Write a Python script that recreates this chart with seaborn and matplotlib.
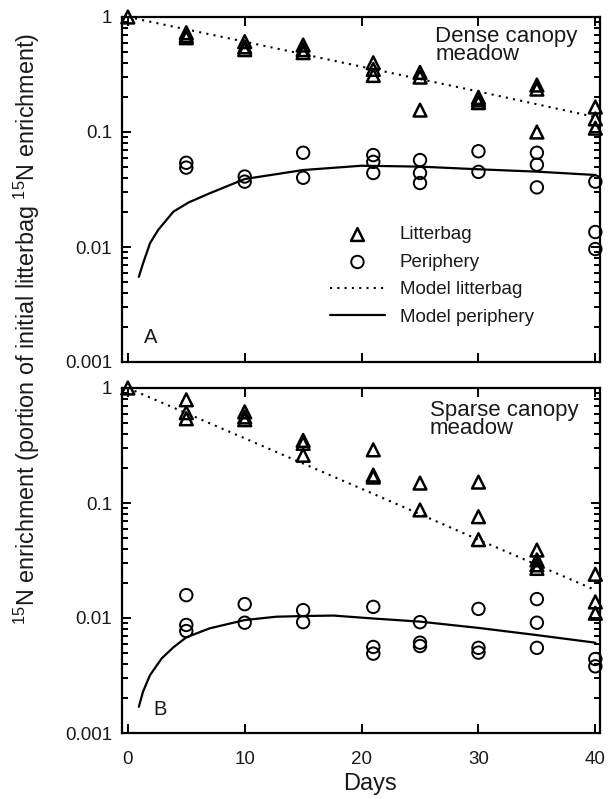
import numpy as np
import pandas as pd
import matplotlib
matplotlib.use("Agg")
import matplotlib.pyplot as plt
import matplotlib.ticker as mticker
import seaborn as sns

# --- data ---
# Dense canopy meadow (panel A)
dense_litter_days = [0, 5, 5, 5, 10, 10, 10, 15, 15, 15, 21, 21, 21, 25, 25, 25,
                     30, 30, 30, 35, 35, 35, 40, 40, 40]
dense_litter_vals = [1.0, 0.73, 0.69, 0.66, 0.61, 0.55, 0.52, 0.57, 0.52, 0.49,
                     0.40, 0.35, 0.31, 0.33, 0.30, 0.155, 0.20, 0.19, 0.18,
                     0.256, 0.236, 0.10, 0.165, 0.13, 0.108]
dense_peri_days = [5, 5, 10, 10, 15, 15, 21, 21, 21, 25, 25, 25, 30, 30,
                   35, 35, 35, 40, 40, 40]
dense_peri_vals = [0.054, 0.049, 0.041, 0.037, 0.066, 0.040, 0.063, 0.055, 0.044,
                   0.057, 0.044, 0.036, 0.068, 0.045, 0.066, 0.052, 0.033,
                   0.037, 0.0135, 0.0096]
dense_model_litter_days = [0, 10, 20, 30, 40]
dense_model_litter_vals = [1.0, 0.61, 0.37, 0.225, 0.135]
dense_model_peri_days = [0.94, 1.3, 1.9, 2.6, 3.9, 5.2, 7, 10, 15, 20, 25, 30, 35, 40]
dense_model_peri_vals = [0.0055, 0.0072, 0.0108, 0.0141, 0.0203, 0.0244, 0.0293,
                         0.039, 0.0467, 0.0509, 0.050, 0.0474, 0.0452, 0.0423]

# Sparse canopy meadow (panel B)
sparse_litter_days = [0, 5, 5, 5, 10, 10, 10, 15, 15, 15, 21, 21, 21, 25, 25,
                      30, 30, 30, 35, 35, 35, 35, 40, 40, 40]
sparse_litter_vals = [1.0, 0.79, 0.61, 0.54, 0.62, 0.56, 0.53, 0.35, 0.33, 0.26,
                      0.29, 0.175, 0.168, 0.149, 0.087, 0.152, 0.076, 0.048,
                      0.039, 0.032, 0.029, 0.027, 0.024, 0.0138, 0.011]
sparse_peri_days = [5, 5, 5, 10, 10, 15, 15, 21, 21, 21, 25, 25, 25, 30, 30, 30,
                    35, 35, 35, 40, 40]
sparse_peri_vals = [0.0158, 0.0087, 0.0077, 0.0132, 0.0091, 0.0117, 0.0092,
                    0.0125, 0.0056, 0.0049, 0.0092, 0.0061, 0.0057, 0.012, 0.0055,
                    0.005, 0.0146, 0.0091, 0.0055, 0.0044, 0.0038]
sparse_model_litter_days = [0, 10, 20, 30, 40]
sparse_model_litter_vals = [1.0, 0.365, 0.133, 0.048, 0.0175]
sparse_model_peri_days = [0.94, 1.3, 1.9, 2.9, 3.9, 5.0, 7, 10, 12.7, 15, 17.6,
                          21, 25, 30, 35, 40]
sparse_model_peri_vals = [0.00169, 0.00229, 0.00319, 0.00446, 0.00556, 0.00679,
                          0.00813, 0.0096, 0.01026, 0.0104, 0.0105, 0.0099,
                          0.0093, 0.0082, 0.0071, 0.0061]

y_major = [0.001, 0.01, 0.1, 1]
y_major_labels = ["0.001", "0.01", "0.1", "1"]
y_minor = [k * 10.0 ** e for e in (-3, -2, -1) for k in range(2, 10)]

panels = [
    dict(litter=(dense_litter_days, dense_litter_vals),
         peri=(dense_peri_days, dense_peri_vals),
         mlitter=(dense_model_litter_days, dense_model_litter_vals),
         mperi=(dense_model_peri_days, dense_model_peri_vals),
         title="Dense canopy\nmeadow", letter="A",
         title_xy=(0.655, 0.975), letter_xy=(0.059, 0.07)),
    dict(litter=(sparse_litter_days, sparse_litter_vals),
         peri=(sparse_peri_days, sparse_peri_vals),
         mlitter=(sparse_model_litter_days, sparse_model_litter_vals),
         mperi=(sparse_model_peri_days, sparse_model_peri_vals),
         title="Sparse canopy\nmeadow", letter="B",
         title_xy=(0.644, 0.965), letter_xy=(0.08, 0.067)),
]

# --- style ---
sns.set_theme(style="ticks")
plt.rcParams["font.family"] = ["Liberation Sans", "DejaVu Sans"]
plt.rcParams["mathtext.fontset"] = "custom"
plt.rcParams["mathtext.rm"] = "Liberation Sans"
plt.rcParams["mathtext.default"] = "rm"

text_col = "#1a1a1a"

fig = plt.figure(figsize=(6.13, 7.99), dpi=100)
ax_top = fig.add_axes([122 / 613, 1 - 362 / 799, 478 / 613, 345 / 799])
ax_bot = fig.add_axes([122 / 613, 1 - 733 / 799, 478 / 613, 345 / 799])

for ax, p in zip([ax_top, ax_bot], panels):
    ld = pd.DataFrame({"day": p["litter"][0], "val": p["litter"][1]})
    pdf = pd.DataFrame({"day": p["peri"][0], "val": p["peri"][1]})
    ml = pd.DataFrame({"day": p["mlitter"][0], "val": p["mlitter"][1]})
    mp = pd.DataFrame({"day": p["mperi"][0], "val": p["mperi"][1]})

    sns.lineplot(data=ml, x="day", y="val", ax=ax, color="black", lw=1.5,
                 linestyle=(0, (1, 2.5)), label="Model litterbag", zorder=2)
    sns.lineplot(data=mp, x="day", y="val", ax=ax, color="black", lw=1.6,
                 label="Model periphery", zorder=2)
    sns.scatterplot(data=ld, x="day", y="val", ax=ax, marker="^", s=85,
                    facecolor="none", edgecolor="black", linewidth=1.8,
                    label="Litterbag", zorder=3, clip_on=False)
    sns.scatterplot(data=pdf, x="day", y="val", ax=ax, marker="o", s=80,
                    facecolor="none", edgecolor="black", linewidth=1.4,
                    label="Periphery", zorder=3, clip_on=False)

    ax.set_yscale("log")
    ax.set_ylim(0.001, 1)
    ax.set_xlim(-0.5, 40.4)
    ax.set_xticks([0, 10, 20, 30, 40])
    ax.yaxis.set_major_locator(mticker.FixedLocator(y_major))
    ax.yaxis.set_major_formatter(mticker.FixedFormatter(y_major_labels))
    ax.yaxis.set_minor_locator(mticker.FixedLocator(y_minor))
    ax.yaxis.set_minor_formatter(mticker.NullFormatter())
    ax.tick_params(which="major", direction="in", top=True, right=True,
                   length=6.5, width=1.4, labelsize=13.5, color="black",
                   labelcolor=text_col)
    ax.tick_params(axis="y", which="minor", direction="in", left=True, right=True,
                   length=4.5, width=1.3, color="black")
    ax.tick_params(axis="y", which="major", pad=7)
    ax.tick_params(axis="x", which="major", pad=13)

    # minor log ticks also drawn as short inward marks on both y spines
    yax_tr = ax.get_yaxis_transform()
    ax.hlines(y_minor, 0, 0.013, transform=yax_tr, colors="black", lw=1.3,
              clip_on=False, zorder=4)
    ax.hlines(y_minor, 1 - 0.013, 1, transform=yax_tr, colors="black", lw=1.3,
              clip_on=False, zorder=4)

    for sp in ax.spines.values():
        sp.set_visible(True)
        sp.set_linewidth(1.6)
        sp.set_color("black")
    ax.set_xlabel("")
    ax.set_ylabel("")

    ax.text(p["title_xy"][0], p["title_xy"][1], p["title"], transform=ax.transAxes,
            ha="left", va="top", fontsize=16, linespacing=0.82, color=text_col)
    ax.text(p["letter_xy"][0], p["letter_xy"][1], p["letter"], transform=ax.transAxes,
            ha="center", va="center", fontsize=14.5, color=text_col)

ax_top.tick_params(axis="x", labelbottom=False)

# legend only in the top panel
handles, labels = ax_top.get_legend_handles_labels()
order = [labels.index(n) for n in ["Litterbag", "Periphery", "Model litterbag", "Model periphery"]]
ax_top.legend([handles[i] for i in order], [labels[i] for i in order],
              loc="upper left", bbox_to_anchor=(0.42, 0.415), frameon=False,
              fontsize=13.5, handlelength=2.9, handletextpad=0.8, labelspacing=0.55,
              borderaxespad=0, labelcolor=text_col)
ax_bot.get_legend().remove()

fig.text(27 / 613, 1 - 329 / 799,
         "$^{15}$N enrichment (portion of initial litterbag $^{15}$N enrichment)",
         rotation=90, ha="center", va="center", fontsize=16.8, color=text_col)
fig.text(370 / 613, 1 - 784 / 799, "Days", ha="center", va="center",
         fontsize=17, color=text_col)

fig.savefig("out.png", dpi=100)
